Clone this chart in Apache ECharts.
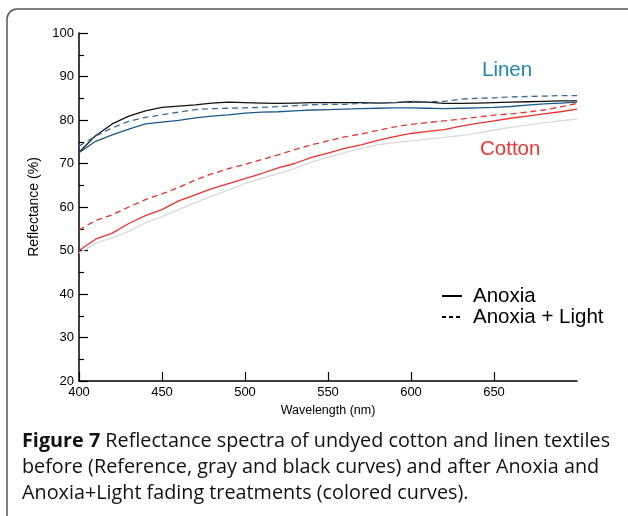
<!DOCTYPE html>
<html>
<head>
<meta charset="utf-8">
<script src="https://cdn.jsdelivr.net/npm/echarts@6/dist/echarts.min.js"></script>
<style>
    html, body { margin: 0; padding: 0; background: #fff; }
    #chart { width: 628px; height: 516px; }
</style>
</head>
<body>
<div id="chart"></div>
<script>
    // wavelength grid (nm)
    const wavelengths = [400, 410, 420, 430, 440, 450, 460, 470, 480, 490, 500,
        510, 520, 530, 540, 550, 560, 570, 580, 590, 600,
        610, 620, 630, 640, 650, 660, 670, 680, 690, 700];

    // linen reference (black)
    const linenRef = [72.6, 76.4, 79.1, 80.9, 82.1, 82.9, 83.2, 83.5, 83.9, 84.1, 84.0,
        83.9, 83.8, 83.9, 84.0, 84.0, 84.0, 84.0, 83.9, 84.0, 84.2,
        84.1, 83.8, 83.8, 83.9, 84.0, 84.1, 84.2, 84.3, 84.4, 84.4];
    // linen anoxia (blue solid)
    const linenAnoxia = [72.5, 75.1, 76.6, 77.9, 79.1, 79.5, 79.9, 80.5, 80.9, 81.2, 81.6,
        81.8, 81.9, 82.1, 82.3, 82.4, 82.5, 82.6, 82.7, 82.8, 82.8,
        82.7, 82.6, 82.7, 82.8, 82.9, 83.1, 83.4, 83.7, 83.9, 84.1];
    // linen anoxia + light (blue dashed)
    const linenLight = [74.0, 76.3, 78.2, 79.7, 80.6, 81.2, 81.8, 82.4, 82.6, 82.7, 82.8,
        82.9, 83.1, 83.3, 83.5, 83.6, 83.6, 83.8, 83.9, 84.0, 84.3,
        84.2, 84.3, 84.8, 85.0, 85.1, 85.3, 85.4, 85.5, 85.6, 85.6];
    // cotton reference (gray)
    const cottonRef = [49.4, 51.7, 52.9, 54.4, 56.4, 57.8, 59.4, 61.0, 62.5, 63.9, 65.4,
        66.6, 67.7, 68.9, 70.3, 71.4, 72.5, 73.5, 74.3, 74.8, 75.2,
        75.6, 76.0, 76.4, 77.0, 77.7, 78.3, 78.8, 79.4, 79.8, 80.2];
    // cotton anoxia (red solid)
    const cottonAnoxia = [50.0, 52.6, 54.0, 56.2, 58.0, 59.4, 61.4, 62.8, 64.2, 65.4, 66.5,
        67.7, 69.0, 70.0, 71.4, 72.4, 73.5, 74.3, 75.3, 76.2, 76.9,
        77.4, 77.8, 78.6, 79.2, 79.8, 80.4, 80.9, 81.4, 81.9, 82.5];
    // cotton anoxia + light (red dashed)
    const cottonLight = [54.7, 56.9, 58.2, 60.0, 61.7, 63.0, 64.5, 66.2, 67.6, 68.8, 69.8,
        70.9, 72.0, 73.2, 74.3, 75.2, 76.1, 76.8, 77.6, 78.4, 79.0,
        79.4, 79.8, 80.2, 80.7, 81.1, 81.4, 81.8, 82.3, 83.0, 83.8];

    const captionLines = [
        'Reflectance spectra of undyed cotton and linen textiles',
        'before (Reference, gray and black curves) and after Anoxia and',
        'Anoxia+Light fading treatments (colored curves).'
    ];

    const font = 'Liberation Sans, Arial, sans-serif';
    const capFont = 'Open Sans, sans-serif';

    function pairs(values) {
        return wavelengths.map((w, i) => [w, values[i]]);
    }

    function curve(name, values, color, dashed) {
        return {
            name: name,
            type: 'line',
            data: pairs(values),
            showSymbol: false,
            silent: true,
            lineStyle: {
                color: color,
                width: 1.3,
                type: dashed ? [6, 4] : 'solid'
            }
        };
    }

    function label(text, x, y, color) {
        return {
            type: 'text',
            style: { x: x, y: y, text: text, fill: color, font: '20.5px ' + font, verticalAlign: 'middle' }
        };
    }

    const myChart = echarts.init(document.getElementById('chart'));
    const option = {
        backgroundColor: '#fff',
        animation: false,
        grid: { left: 79, right: 51, top: 33, bottom: 135 },
        xAxis: {
            type: 'value',
            min: 400,
            max: 700,
            interval: 50,
            name: 'Wavelength (nm)',
            nameLocation: 'middle',
            nameGap: 21,
            nameTextStyle: { fontFamily: font, fontSize: 12.5, color: '#000' },
            axisLine: { lineStyle: { color: '#000', width: 1.5 } },
            axisTick: { inside: true, length: 9, lineStyle: { color: '#000', width: 1.2 } },
            axisLabel: {
                fontFamily: font, fontSize: 13, color: '#000', margin: 5,
                showMaxLabel: false
            },
            splitLine: { show: false }
        },
        yAxis: {
            type: 'value',
            min: 20,
            max: 100,
            interval: 10,
            name: 'Reflectance (%)',
            nameLocation: 'middle',
            nameGap: 31,
            nameTextStyle: { fontFamily: font, fontSize: 14, color: '#000' },
            axisLine: { lineStyle: { color: '#000', width: 1.5 } },
            axisTick: { inside: true, length: 9, lineStyle: { color: '#000', width: 1.2 } },
            minorTick: { show: true, splitNumber: 2, length: 5, lineStyle: { color: '#000', width: 1.2 } },
            axisLabel: { fontFamily: font, fontSize: 13, color: '#000', margin: 5 },
            splitLine: { show: false }
        },
        series: [
            curve('Cotton reference', cottonRef, '#d9d9d9', false),
            curve('Cotton anoxia', cottonAnoxia, '#e8322e', false),
            curve('Cotton anoxia + light', cottonLight, '#e8322e', true),
            curve('Linen reference', linenRef, '#111111', false),
            curve('Linen anoxia', linenAnoxia, '#1d5a8a', false),
            curve('Linen anoxia + light', linenLight, '#3a6d95', true)
        ],
        graphic: [
            {
                type: 'rect', silent: true, z: -1,
                shape: { x: 7, y: 9, width: 700, height: 600, r: 10 },
                style: { fill: 'none', stroke: '#555', lineWidth: 1.5 }
            },
            label('Linen', 482, 70, '#1a87b0'),
            label('Cotton', 480, 149, '#ee3333'),
            {
                type: 'line', shape: { x1: 442, y1: 296, x2: 462, y2: 296 },
                style: { stroke: '#000', lineWidth: 2 }
            },
            {
                type: 'line', shape: { x1: 442, y1: 317, x2: 462, y2: 317 },
                style: { stroke: '#000', lineWidth: 2, lineDash: [4, 3] }
            },
            label('Anoxia', 473, 296, '#000'),
            label('Anoxia + Light', 473, 317, '#000'),
            {
                type: 'text', left: 22, top: 428,
                style: {
                    text: '{b|Figure 7} ' + captionLines[0] + '\n' + captionLines[1] + '\n' + captionLines[2],
                    fill: '#111',
                    font: '19.8px ' + capFont,
                    lineHeight: 26,
                    rich: {
                        b: { fontWeight: 'bold', fontSize: 19.8, fontFamily: capFont, lineHeight: 26 }
                    }
                }
            }
        ]
    };
    myChart.setOption(option);
</script>
</body>
</html>
